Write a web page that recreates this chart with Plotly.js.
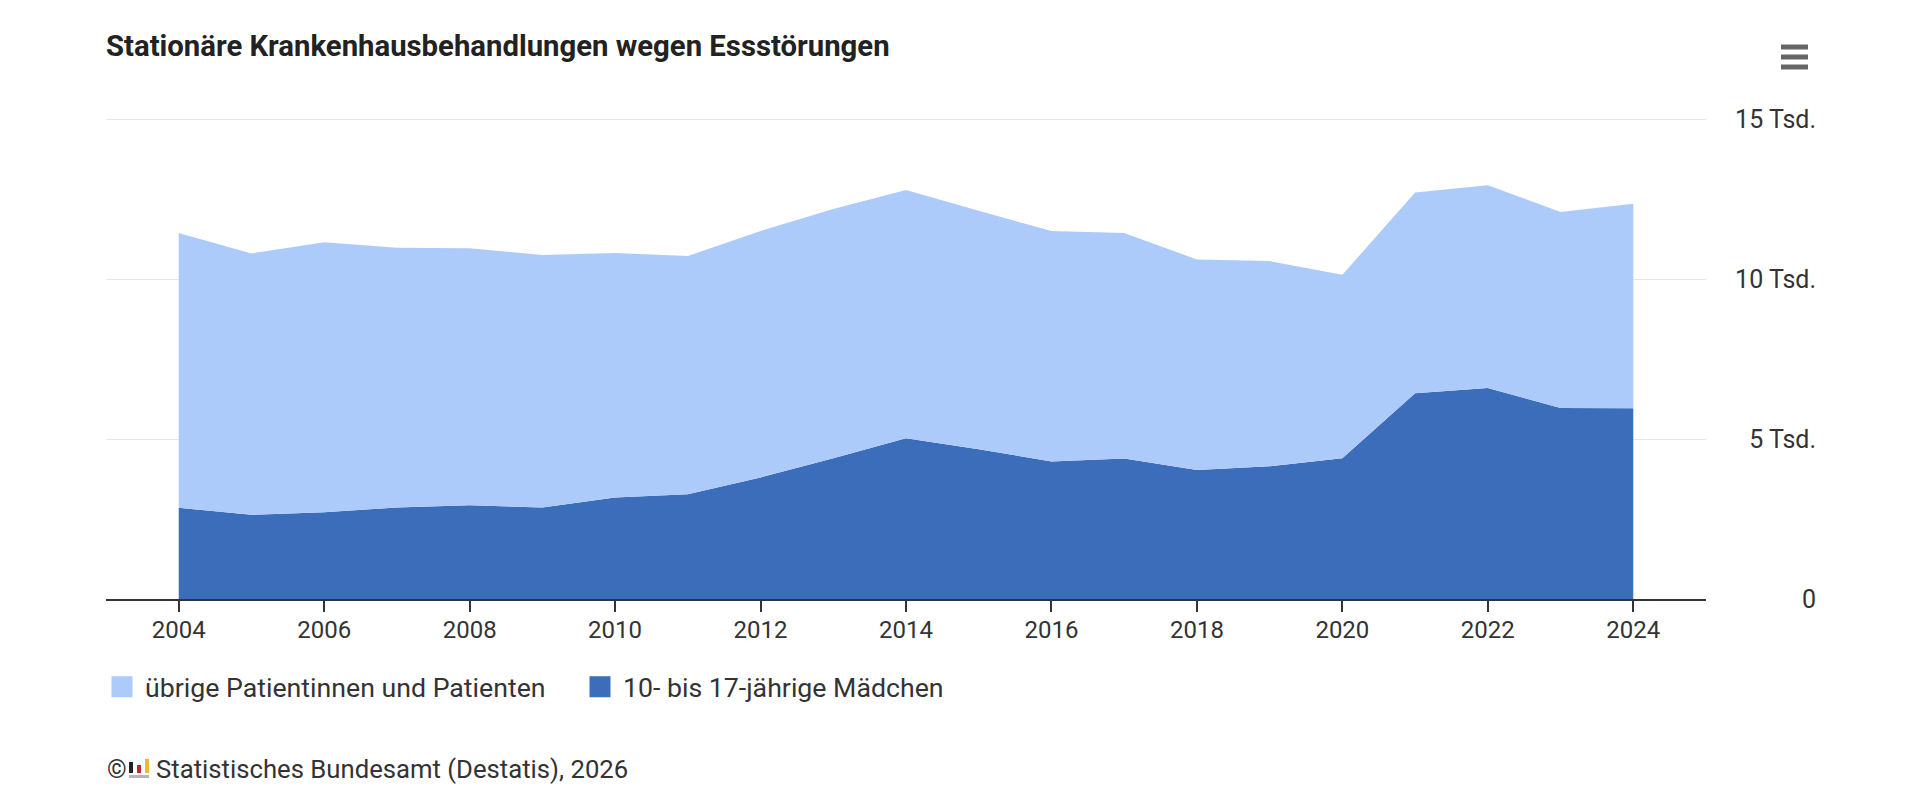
<!DOCTYPE html>
<html>
<head>
<meta charset="utf-8">
<script src="https://cdn.plot.ly/plotly-3.0.1.min.js"></script>
<style>
html,body{margin:0;padding:0;background:#fff;}
#chart{width:1920px;height:804px;}
</style>
</head>
<body>
<div id="chart"></div>
<script>
// ---- data ----
const years = [2004,2005,2006,2007,2008,2009,2010,2011,2012,2013,2014,2015,2016,2017,2018,2019,2020,2021,2022,2023,2024];
const girls = [2850,2630,2710,2860,2930,2860,3170,3270,3800,4400,5020,4680,4300,4390,4030,4150,4400,6430,6590,5970,5960];
const others = [8590,8170,8440,8120,8030,7890,7640,7450,7700,7790,7760,7450,7200,7050,6580,6410,5730,6270,6340,6120,6390];
const seriesNames = ['übrige Patientinnen und Patienten', '10- bis 17-jährige Mädchen'];
const yTickVals = [0, 5000, 10000, 15000];
const yTickText = ['0', '5 Tsd.', '10 Tsd.', '15 Tsd.'];
const titleText = 'Stationäre Krankenhausbehandlungen wegen Essstörungen';
const sourceText = 'Statistisches Bundesamt (Destatis), 2026';

// ---- style ----
const LIGHT = '#adcbfa';
const DARK = '#3c6dbb';
const FONT = 'Roboto, "Open Sans", sans-serif';
const W = 1920, H = 804;
const PAD = 30;                                // extra room for the label axis
const TOPX = 3;                                // keep top gridline off the edge
const ML = 106, MR = 80, MT = 119 - PAD, MB = 205 - PAD;
const PW = W - ML - MR, PH = H - MT - MB;
const px = v => (v - ML) / PW;                 // pixel x -> paper x
const py = v => (H - MB - v) / PH;             // pixel y -> paper y
const YMAX = 15000;
const unitsPerPx = YMAX / (PH - 2 * PAD);

const traces = [
  {x: years, y: girls, name: seriesNames[1], stackgroup: 'one', mode: 'none',
   fillcolor: DARK, line: {width: 0}, showlegend: false, hoverinfo: 'x+y'},
  {x: years, y: others, name: seriesNames[0], stackgroup: 'one', mode: 'none',
   fillcolor: LIGHT, line: {width: 0}, showlegend: false, hoverinfo: 'x+y'},
  {x: [null], y: [null], name: seriesNames[0], mode: 'markers', type: 'scatter',
   marker: {symbol: 'square', size: 16, color: LIGHT, line: {width: 8, color: LIGHT}}},
  {x: [null], y: [null], name: seriesNames[1], mode: 'markers', type: 'scatter',
   marker: {symbol: 'square', size: 16, color: DARK, line: {width: 8, color: DARK}}},
  // helper so the right-hand label axis gets drawn
  {x: [null], y: [null], yaxis: 'y2', mode: 'markers', showlegend: false, hoverinfo: 'skip'}
];

const barLine = (y) => ({type: 'line', xref: 'paper', yref: 'paper',
  x0: px(1781), x1: px(1808), y0: py(y), y1: py(y), line: {color: '#666', width: 5}});
const rect = (x0, x1, y0, y1, c) => ({type: 'rect', xref: 'paper', yref: 'paper',
  x0: px(x0), x1: px(x1), y0: py(y1), y1: py(y0), fillcolor: c, line: {width: 0}});

const layout = {
  width: W, height: H,
  paper_bgcolor: '#ffffff', plot_bgcolor: 'rgba(0,0,0,0)',
  margin: {l: ML, r: MR, t: MT, b: MB},
  font: {family: FONT, size: 24, color: '#333'},
  title: {text: titleText, xref: 'paper', x: 0, xanchor: 'left',
          yref: 'container', y: 1 - 46 / H, yanchor: 'middle',
          font: {family: FONT, size: 29.3, weight: 'bold', color: '#222'}},
  xaxis: {domain: [0, (1706 - ML) / PW], range: [2003, 2025],
          tick0: 2004, dtick: 2, ticks: 'outside', ticklen: 11, tickwidth: 2, tickcolor: '#333',
          ticklabelstandoff: -3,
          showline: true, linecolor: '#333', linewidth: 2, showgrid: false, zeroline: false,
          tickfont: {family: FONT, size: 24, color: '#333'}, fixedrange: true},
  yaxis: {domain: [PAD / PH, 1 - (PAD - TOPX) / PH], range: [0, YMAX + TOPX * unitsPerPx],
          tickvals: yTickVals,
          showticklabels: false, ticks: '', showline: false, showgrid: true,
          gridcolor: '#e6e6e6', gridwidth: 1, zeroline: false, fixedrange: true},
  yaxis2: {domain: [0, 1], range: [-PAD * unitsPerPx, YMAX + PAD * unitsPerPx],
           tickvals: yTickVals, ticktext: yTickText,
           side: 'right', anchor: 'free', position: px(1819), ticklabelposition: 'inside',
           ticks: '', showline: false, showgrid: false, zeroline: false,
           tickfont: {family: FONT, size: 25, color: '#333'}, fixedrange: true},
  showlegend: true,
  legend: {orientation: 'h', x: px(99), xanchor: 'left', y: py(687), yanchor: 'middle',
           font: {family: FONT, size: 26.7, color: '#333'}, itemwidth: 36, entrywidth: 427,
           traceorder: 'normal'},
  annotations: [
    {text: '©', xref: 'paper', yref: 'paper', x: px(105), y: py(769), xanchor: 'left', yanchor: 'middle',
     showarrow: false, font: {family: FONT, size: 25, color: '#333'}},
    {text: sourceText, xref: 'paper', yref: 'paper', x: px(154), y: py(769), xanchor: 'left', yanchor: 'middle',
     showarrow: false, font: {family: FONT, size: 25.7, color: '#333'}}
  ],
  shapes: [
    barLine(47), barLine(57), barLine(67),
    rect(129, 133, 762, 773, '#222'),
    rect(137, 141, 765, 773, '#c0282d'),
    rect(145, 149, 759, 773, '#f2b637'),
    rect(129, 149, 775, 778, '#b5b5b5')
  ]
};

Plotly.newPlot('chart', traces, layout, {displayModeBar: false});
</script>
</body>
</html>
